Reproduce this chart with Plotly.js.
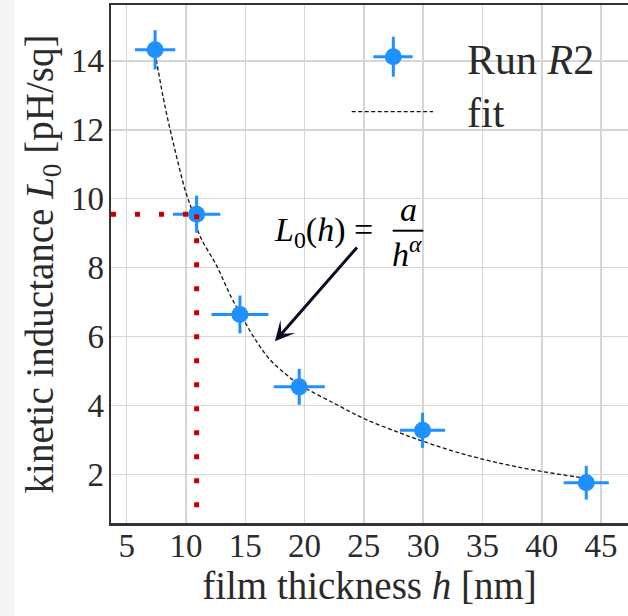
<!DOCTYPE html>
<html>
<head>
<meta charset="utf-8">
<script src="https://cdn.plot.ly/plotly-3.0.1.min.js"></script>
<style>html,body{margin:0;padding:0;background:#fff;}</style>
</head>
<body>
<div id="chart" style="width:628px;height:616px;"></div>
<script>
// ---- data ----
var thickness = [7.4, 10.9, 14.55, 19.55, 29.95, 43.75];       // h [nm]
var inductance = [14.32, 9.55, 6.64, 4.54, 3.28, 1.76];        // L0 [pH/sq]
var thicknessErr = [1.7, 2.0, 2.4, 2.15, 1.9, 1.9];
var inductanceErr = [0.57, 0.54, 0.55, 0.52, 0.51, 0.49];

var fitH = [7.5, 8.23, 9.07, 9.92, 10.48, 11.18, 12.59, 13.85, 14.55, 15.67, 17.08, 18.49, 19.6, 22.4, 25.2, 28.0, 29.9, 33.7, 37.9, 42.9, 43.7];
var fitL = [14.03, 12.68, 11.42, 10.26, 9.69, 8.92, 8.05, 7.12, 6.69, 6.01, 5.33, 4.89, 4.60, 4.08, 3.59, 3.21, 2.97, 2.56, 2.22, 1.93, 1.90];

var refH = 10.9;   // marked thickness
var refL = 9.55;   // marked inductance

var xTicks = [5, 10, 15, 20, 25, 30, 35, 40, 45];
var yTicks = [2, 4, 6, 8, 10, 12, 14];
var xRange = [3.68, 47.27];
var yRange = [0.59, 15.62];

var arrowTip = [17.5, 5.86];
var arrowTail = [24.53, 8.63];

// ---- helpers for paper positioning ----
var M = {l: 111, r: 0, t: 5, b: 93};
var W = 628, H = 616;
var PW = W - M.l - M.r, PH = H - M.t - M.b;
function px(x) { return (x - M.l) / PW; }
function py(y) { return (H - M.b - y) / PH; }

var blue = '#1e90ff';
var serif = '"Liberation Serif", "DejaVu Serif", serif';

var traces = [
  {
    x: fitH, y: fitL, mode: 'lines', name: 'fit', showlegend: false,
    line: {color: '#111', width: 1.3, dash: '4px,2.5px', shape: 'spline'},
    hoverinfo: 'skip'
  },
  {
    x: thickness, y: inductance, mode: 'markers', name: 'Run R2', showlegend: false,
    marker: {color: blue, size: 17},
    error_x: {type: 'data', array: thicknessErr, color: blue, thickness: 3, width: 0},
    error_y: {type: 'data', array: inductanceErr, color: blue, thickness: 3, width: 0}
  },
  {
    x: [xRange[0], refH], y: [refL, refL], mode: 'lines', showlegend: false,
    line: {color: '#c80000', width: 5, dash: '5px,19px'}, hoverinfo: 'skip'
  },
  {
    x: [refH, refH], y: [refL, yRange[0]], mode: 'lines', showlegend: false,
    line: {color: '#c80000', width: 5, dash: '5px,19px'}, hoverinfo: 'skip'
  }
];

var axisCommon = {
  showgrid: true, gridcolor: '#d6d6d6', gridwidth: 1.5,
  zeroline: false, ticks: '',
  showline: true, linecolor: '#333', linewidth: 2.5,
  tickfont: {family: serif, size: 33, color: '#2a2a2a'}
};

var layout = {
  width: W, height: H,
  margin: M,
  font: {family: serif},
  paper_bgcolor: '#ffffff', plot_bgcolor: '#ffffff',
  showlegend: false,
  xaxis: Object.assign({}, axisCommon, {
    range: xRange, tickmode: 'array', tickvals: xTicks, mirror: true, ticklabelstandoff: -8,
    title: {text: 'film thickness <i>h</i> [nm]', font: {family: serif, size: 39, color: '#2a2a2a'}, standoff: 2}
  }),
  yaxis: Object.assign({}, axisCommon, {
    range: yRange, tickmode: 'array', tickvals: yTicks, ticklabelstandoff: -2,
    title: {text: 'kinetic inductance <i>L</i><sub>0</sub> [pH/sq]', font: {family: serif, size: 39, color: '#2a2a2a'}, standoff: 6}
  }),
  shapes: [
    {type: 'rect', xref: 'paper', yref: 'paper', x0: px(0), x1: px(14), y0: py(616), y1: py(0),
     fillcolor: '#f5f5f5', line: {width: 0}, layer: 'below'},
    {type: 'line', xref: 'paper', yref: 'paper', x0: px(392.7), x1: px(423.3), y0: py(230.7), y1: py(230.7),
     line: {color: '#000', width: 2}},
    {type: 'line', xref: 'paper', yref: 'paper', x0: px(373.3), x1: px(412.7), y0: py(56.7), y1: py(56.7),
     line: {color: blue, width: 3}},
    {type: 'line', xref: 'paper', yref: 'paper', x0: px(393.3), x1: px(393.3), y0: py(36.7), y1: py(76.7),
     line: {color: blue, width: 3}},
    {type: 'circle', xref: 'paper', yref: 'paper', xsizemode: 'pixel', ysizemode: 'pixel',
     xanchor: px(393.3), yanchor: py(56.7), x0: -8.5, x1: 8.5, y0: -8.5, y1: 8.5,
     fillcolor: blue, line: {width: 0}},
    {type: 'line', xref: 'paper', yref: 'paper', x0: px(351.7), x1: px(433), y0: py(111.7), y1: py(111.7),
     line: {color: '#111', width: 1.3, dash: '4px,2.5px'}}
  ],
  annotations: [
    {x: arrowTip[0], y: arrowTip[1], ax: arrowTail[0], ay: arrowTail[1], axref: 'x', ayref: 'y',
     xref: 'x', yref: 'y', text: '', showarrow: true, arrowhead: 3, arrowsize: 1.1, arrowwidth: 3,
     arrowcolor: '#0b0b26'},
    {xref: 'paper', yref: 'paper', x: px(323), y: py(231.7), xanchor: 'center', yanchor: 'middle',
     text: '<i>L</i><sub>0</sub>(<i>h</i>) =', showarrow: false,
     font: {family: serif, size: 34, color: '#000'}},
    {xref: 'paper', yref: 'paper', x: px(408.3), y: py(209), xanchor: 'center', yanchor: 'middle',
     text: '<i>a</i>', showarrow: false, font: {family: serif, size: 34, color: '#000'}},
    {xref: 'paper', yref: 'paper', x: px(407), y: py(252), xanchor: 'center', yanchor: 'middle',
     text: '<i>h</i><sup><i>α</i></sup>', showarrow: false, font: {family: serif, size: 34, color: '#000'}},
    {xref: 'paper', yref: 'paper', x: px(465), y: py(60), xanchor: 'left', yanchor: 'middle',
     text: 'Run <i>R</i>2', showarrow: false, font: {family: serif, size: 42, color: '#2a2a2a'}},
    {xref: 'paper', yref: 'paper', x: px(465), y: py(113), xanchor: 'left', yanchor: 'middle',
     text: 'fit', showarrow: false, font: {family: serif, size: 42, color: '#2a2a2a'}}
  ]
};

Plotly.newPlot('chart', traces, layout, {displayModeBar: false, staticPlot: true});
</script>
</body>
</html>
